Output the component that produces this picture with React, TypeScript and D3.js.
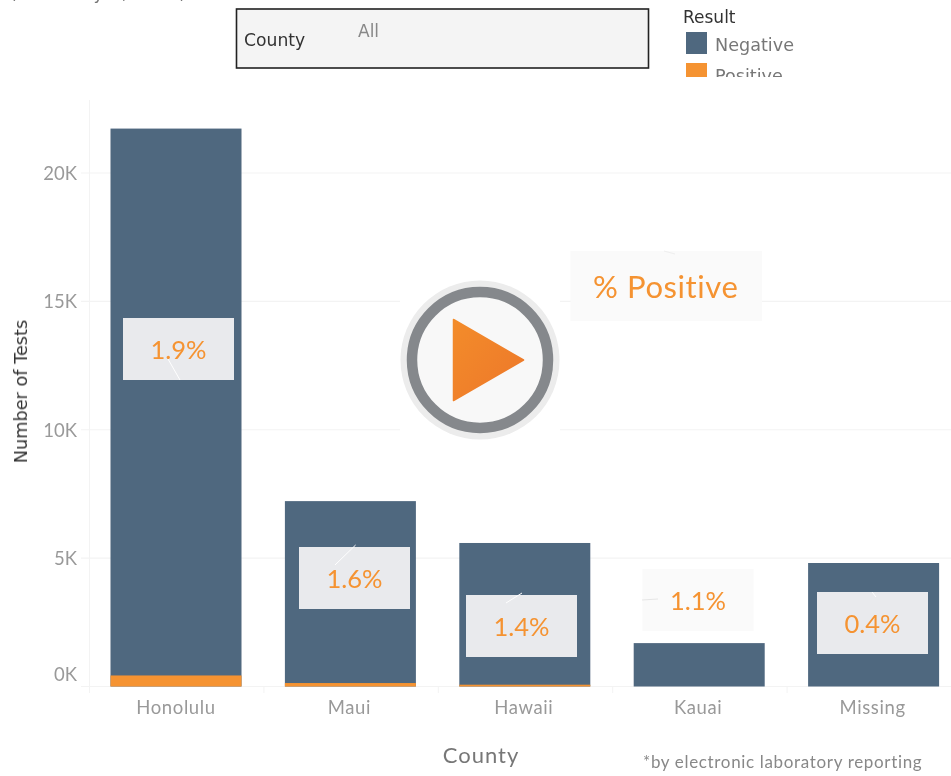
import React from "react";
import * as d3 from "d3";

const counties = ["Honolulu", "Maui", "Hawaii", "Kauai", "Missing"];
const totalTests = [21730, 7220, 5590, 1690, 4810];
const positiveTests = [430, 135, 70, 18, 18];
const percentLabels = ["1.9%", "1.6%", "1.4%", "1.1%", "0.4%"];
const yTicks = [0, 5000, 10000, 15000, 20000];

const W = 951, H = 776;
const FONT = "Lato, 'Open Sans', sans-serif";
const DEJA = "'DejaVu Sans', sans-serif";
const NAVY = "#4f677f", ORANGE = "#f59331", GRID = "#f3f3f3";

const y = d3.scaleLinear().domain([0, 20000]).range([686.5, 173]);
const x = d3.scaleBand<string>().domain(counties).range([89.5, 961.5]).paddingInner(0).paddingOuter(0);
const barInset = 21;
const boxW = 111, boxH = 62;
const boxCentre: [number, number][] = [[178.5, 349], [354.5, 578], [521.5, 626], [698, 600], [872.5, 623]];
const leaders = [
  [168, 359, 180, 380, "#ffffff"], [335, 565, 355.6, 545, "#ffffff"], [506, 603, 522, 593, "#ffffff"],
  [642, 600, 658, 599, "#e6e6e6"], [872, 592, 876, 597, "#ffffff"],
] as const;
const kFormat = (v: number) => `${v / 1000}K`;

export default function App() {
  return (
    <svg width={W} height={H} viewBox={`0 0 ${W} ${H}`} style={{ position: "fixed", left: 0, top: 0, display: "block", background: "#fff" }} fontFamily={FONT}>
      <defs>
        <clipPath id="legendClip"><rect x={670} y={0} width={200} height={77} /></clipPath>
        <linearGradient id="playFill" x1="0" y1="0" x2="1" y2="1">
          <stop offset="0" stopColor="#f38c2b" /><stop offset="1" stopColor="#ed772a" />
        </linearGradient>
        <filter id="soft" x="-5%" y="-5%" width="110%" height="110%"><feGaussianBlur stdDeviation="0.45" /></filter>
      </defs>

      <g filter="url(#soft)">
        {/* clipped subtitle */}
        <text x={10} y={-1} fontSize={17} letterSpacing={0.6} fontFamily={DEJA} fill="#777">(as of May 1, 2020)</text>

        {/* county filter */}
        <rect x={236.5} y={9} width={412} height={59} fill="#f4f4f4" stroke="#222" strokeWidth={1.6} />
        <text x={244} y={46} fontSize={17.2} fontFamily={DEJA} fill="#333">County</text>
        <text x={358} y={37} fontSize={17} fontFamily={DEJA} fill="#888">All</text>

        {/* legend */}
        <text x={683} y={23} fontSize={17} fontFamily={DEJA} fill="#333">Result</text>
        <g clipPath="url(#legendClip)">
          <rect x={686} y={32} width={21} height={22} fill={NAVY} />
          <text x={715} y={51} fontSize={17.6} fontFamily={DEJA} fill="#777">Negative</text>
          <rect x={686} y={63} width={21} height={22} fill={ORANGE} />
          <text x={715} y={82} fontSize={17.6} fontFamily={DEJA} fill="#777">Positive</text>
        </g>

        {/* axes & grid */}
        <line x1={89.5} x2={89.5} y1={100} y2={693} stroke={GRID} />
        {yTicks.map((t) => (
          <g key={t}>
            <line x1={81} x2={W} y1={y(t)} y2={y(t)} stroke={GRID} strokeWidth={1.2} />
            <text x={77} y={t === 0 ? y(t) - 6 : y(t) + 7} textAnchor="end" fontSize={18.5} fill="#999">{kFormat(t)}</text>
          </g>
        ))}
        {counties.map((c) => (
          <line key={c} x1={x(c)!} x2={x(c)!} y1={686.5} y2={693} stroke={GRID} />
        ))}

        {/* bars */}
        {counties.map((c, i) => {
          const bx = x(c)! + barInset, bw = x.bandwidth() - 2 * barInset - 1.4;
          const posH = y(0) - y(positiveTests[i]);
          return (
            <g key={c}>
              <rect x={bx} y={y(totalTests[i])} width={bw} height={y(0) - y(totalTests[i])} fill={NAVY} />
              {posH >= 1 && <rect x={bx} y={y(positiveTests[i])} width={bw} height={posH} fill={ORANGE} />}
              <text x={bx + bw / 2 + (i === 0 ? 0 : -1)} y={714} textAnchor="middle" fontSize={18.5} letterSpacing={0.6} fill="#999">{c}</text>
            </g>
          );
        })}

        {/* axis titles */}
        <text transform="translate(27,391.5) rotate(-90)" textAnchor="middle" fontSize={17.7} fontFamily={DEJA} fill="#333">Number of Tests</text>
        <text x={481} y={763} textAnchor="middle" fontSize={22} letterSpacing={1} fill="#777">County</text>
        <text x={643} y={768} fontSize={17} letterSpacing={0.66} fill="#888">*by electronic laboratory reporting</text>

        {/* callouts */}
        {percentLabels.map((p, i) => {
          const [cx, cy] = boxCentre[i];
          const [x1, y1, x2, y2, col] = leaders[i];
          return (
            <g key={p}>
              <rect x={cx - boxW / 2} y={cy - boxH / 2} width={boxW} height={boxH} fill={counties[i] === "Kauai" ? "#fafafa" : "#e9eaed"} />
              <line x1={x1} y1={y1} x2={x2} y2={y2} stroke={col} strokeWidth={1} />
              <text x={cx} y={cy + 10} textAnchor="middle" fontSize={25.5} fill={ORANGE}>{p}</text>
            </g>
          );
        })}

        <rect x={570.5} y={251} width={191.5} height={70} fill="#fafafa" />
        <line x1={664} y1={251} x2={675} y2={254} stroke="#eeeeee" />
        <text x={593} y={298} fontSize={31} letterSpacing={0.6} fill={ORANGE}>% Positive</text>

        {/* play button */}
        <rect x={400} y={280} width={160} height={160} fill="#fff" />
        <circle cx={480} cy={360} r={79.5} fill="#ececec" />
        <circle cx={480} cy={360} r={68} fill="#f8f8f8" stroke="#85888c" strokeWidth={10.5} />
        <path d="M453.5 319.5 L523.5 360 L453.5 400.5 Z" fill="url(#playFill)" stroke="url(#playFill)" strokeWidth={1.5} strokeLinejoin="round" />
      </g>
    </svg>
  );
}
